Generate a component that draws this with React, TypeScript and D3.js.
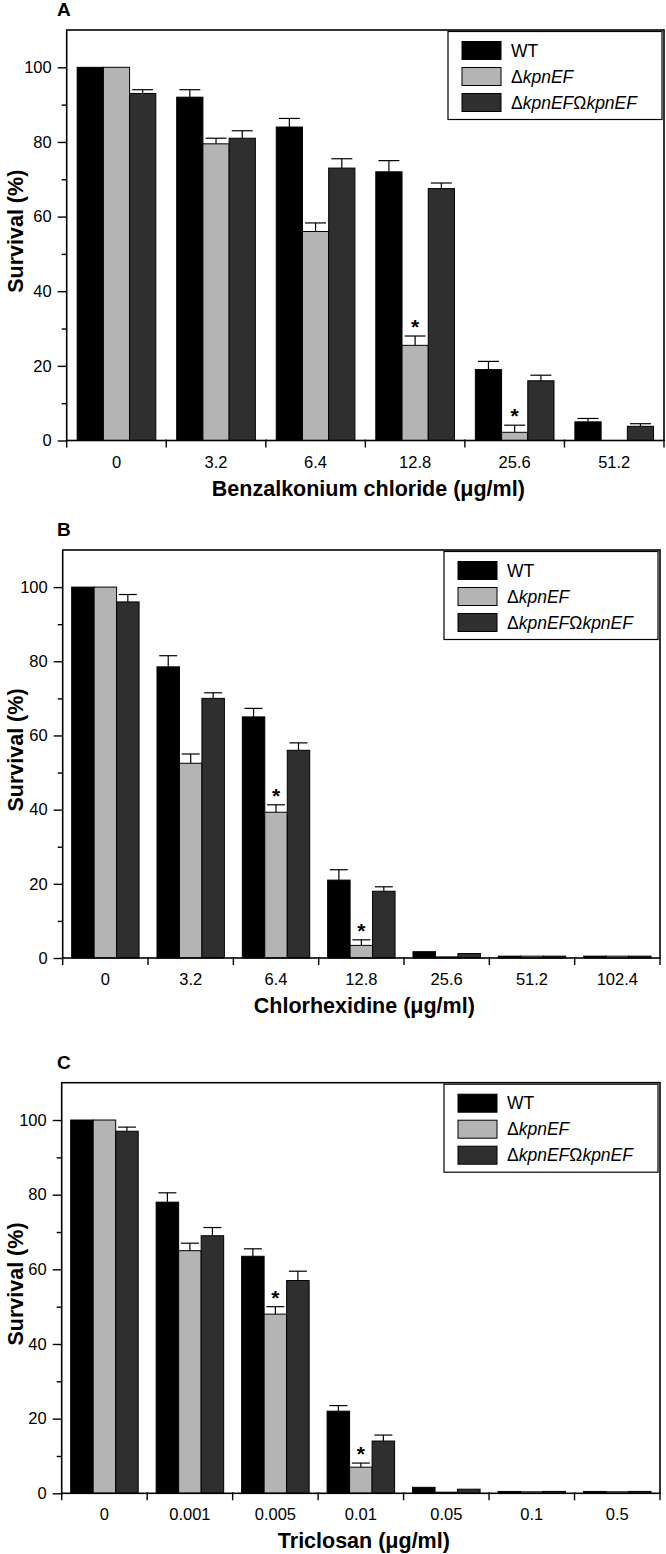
import React, { useEffect, useRef } from "react";
import * as d3 from "d3";

// series (legend order)
const seriesKeys = ["wt", "ko", "comp"];
const seriesFill = ["#000000", "#b4b4b4", "#2f2f2f"];

// panel A - benzalkonium chloride
const benzCats = ["0", "3.2", "6.4", "12.8", "25.6", "51.2"];
const benzWT = [100, 92, 84, 72, 19, 5];
const benzKO = [100, 79.5, 56, 25.5, 2.2, 0];
const benzComp = [93, 81, 73, 67.5, 16, 3.8];
const benzWTErr = [0, 2, 2.3, 3, 2.2, 0.9];
const benzKOErr = [0, 1.5, 2.3, 2.5, 1.9, 0];
const benzCompErr = [1, 2, 2.5, 1.5, 1.5, 0.7];
const benzStars = ["12.8", "25.6"];

// panel B - chlorhexidine
const chlorCats = ["0", "3.2", "6.4", "12.8", "25.6", "51.2", "102.4"];
const chlorWT = [100, 78.5, 65, 21, 1.7, 0.5, 0.5];
const chlorKO = [100, 52.5, 39.3, 3.4, 0.3, 0.5, 0.5];
const chlorComp = [96, 70, 56, 18, 1.2, 0.5, 0.5];
const chlorWTErr = [0, 3, 2.3, 2.8, 0, 0, 0];
const chlorKOErr = [0, 2.5, 2, 1.5, 0, 0, 0];
const chlorCompErr = [2, 1.5, 2, 1.2, 0, 0, 0];
const chlorStars = ["6.4", "12.8"];

// panel C - triclosan
const tricCats = ["0", "0.001", "0.005", "0.01", "0.05", "0.1", "0.5"];
const tricWT = [100, 78, 63.5, 22, 1.6, 0.5, 0.5];
const tricKO = [100, 65, 48, 7, 0.3, 0.4, 0.4];
const tricComp = [97, 69, 57, 14, 1.1, 0.5, 0.5];
const tricWTErr = [0, 2.5, 2, 1.5, 0, 0, 0];
const tricKOErr = [0, 2, 2, 1.1, 0, 0, 0];
const tricCompErr = [1.1, 2.2, 2.5, 1.6, 0, 0, 0];
const tricStars = ["0.005", "0.01"];

const yMajor = [0, 20, 40, 60, 80, 100];
const yMinor = [10, 30, 50, 70, 90];

const FONT = "'Liberation Sans', Arial, Helvetica, sans-serif";

function drawPanel(svg, p) {
  const g = svg.append("g");
  const y = d3.scaleLinear().domain([0, 110]).range([p.zero, p.top]);
  const x0 = d3.scaleBand().domain(p.cats).range([p.left, p.right]);
  const bw = x0.bandwidth();
  const x1 = d3.scaleBand().domain(seriesKeys).range([0.105 * bw, 0.895 * bw]);

  const rows = p.cats.map((c, i) => ({
    cat: c,
    vals: [p.wt[i], p.ko[i], p.comp[i]],
    errs: [p.wtErr[i], p.koErr[i], p.compErr[i]],
  }));

  // bars + error bars
  rows.forEach((r) => {
    r.vals.forEach((v, k) => {
      if (v <= 0) return;
      const bx = x0(r.cat) + x1(seriesKeys[k]);
      g.append("rect")
        .attr("x", bx)
        .attr("y", y(v))
        .attr("width", x1.bandwidth())
        .attr("height", p.zero - y(v))
        .attr("fill", seriesFill[k])
        .attr("stroke", "#000")
        .attr("stroke-width", 1);
      const e = r.errs[k];
      if (e > 0) {
        const cx = bx + x1.bandwidth() / 2;
        const cw = x1.bandwidth() * 0.8;
        g.append("line")
          .attr("x1", cx).attr("x2", cx)
          .attr("y1", y(v)).attr("y2", y(v + e))
          .attr("stroke", "#000").attr("stroke-width", 1.2);
        g.append("line")
          .attr("x1", cx - cw / 2).attr("x2", cx + cw / 2)
          .attr("y1", y(v + e)).attr("y2", y(v + e))
          .attr("stroke", "#000").attr("stroke-width", 1.2);
      }
      if (k === 1 && p.stars.includes(r.cat)) {
        g.append("text")
          .attr("x", bx + x1.bandwidth() / 2)
          .attr("y", y(v + e) - 2)
          .attr("text-anchor", "middle")
          .attr("font-family", FONT)
          .attr("font-weight", "bold")
          .attr("font-size", 21)
          .text("*");
      }
    });
  });

  // frame
  g.append("rect")
    .attr("x", p.left).attr("y", p.top)
    .attr("width", p.right - p.left).attr("height", p.zero - p.top)
    .attr("fill", "none").attr("stroke", "#000").attr("stroke-width", 1.6);

  // y axis ticks
  const yAxis = g.append("g")
    .attr("transform", `translate(${p.left},0)`)
    .call(d3.axisLeft(y).tickValues(yMajor).tickSize(9).tickPadding(6));
  yAxis.select(".domain").remove();
  yAxis.selectAll("line").attr("stroke-width", 1.4);
  yAxis.selectAll("text").attr("font-size", 16.5).attr("font-family", FONT).attr("fill", "#000");
  const yMin = g.append("g")
    .attr("transform", `translate(${p.left},0)`)
    .call(d3.axisLeft(y).tickValues(yMinor).tickSize(5).tickFormat(() => ""));
  yMin.select(".domain").remove();
  yMin.selectAll("line").attr("stroke-width", 1.4);

  // x ticks at group boundaries
  const bounds = p.cats.map((c) => x0(c)).concat([p.right]);
  g.selectAll(".xt")
    .data(bounds)
    .enter()
    .append("line")
    .attr("x1", (d) => d).attr("x2", (d) => d)
    .attr("y1", p.zero - 1).attr("y2", p.zero + 7)
    .attr("stroke", "#000").attr("stroke-width", 1.4);
  g.selectAll(".xl")
    .data(p.cats)
    .enter()
    .append("text")
    .attr("x", (d) => x0(d) + bw / 2)
    .attr("y", p.zero + 27)
    .attr("text-anchor", "middle")
    .attr("font-family", FONT)
    .attr("font-size", 16.5)
    .text((d) => d);

  // titles
  g.append("text")
    .attr("x", (p.left + p.right) / 2 + 3)
    .attr("y", p.zero + 55)
    .attr("text-anchor", "middle")
    .attr("font-family", FONT)
    .attr("font-weight", "bold")
    .attr("font-size", 21.5)
    .text(p.title);
  const yc = (p.top + p.zero) / 2 - 4;
  g.append("text")
    .attr("transform", `translate(23,${yc}) rotate(-90)`)
    .attr("text-anchor", "middle")
    .attr("font-family", FONT)
    .attr("font-weight", "bold")
    .attr("font-size", 21.5)
    .text("Survival (%)");
  g.append("text")
    .attr("x", 57)
    .attr("y", p.top - 14)
    .attr("font-family", FONT)
    .attr("font-weight", "bold")
    .attr("font-size", 19)
    .text(p.label);

  // legend
  const lx = p.right - 216;
  const ly = p.top + 1.5;
  const leg = g.append("g").attr("transform", `translate(${lx},${ly})`);
  leg.append("rect")
    .attr("x", 0).attr("y", 0).attr("width", 214).attr("height", 88)
    .attr("fill", "#fff").attr("stroke", "#000").attr("stroke-width", 1.2);
  seriesKeys.forEach((s, k) => {
    const cy = 19 + k * 26;
    leg.append("rect")
      .attr("x", 14).attr("y", cy - 9).attr("width", 39).attr("height", 18)
      .attr("fill", seriesFill[k]).attr("stroke", "#000").attr("stroke-width", 1);
    const t = leg.append("text")
      .attr("x", 63).attr("y", cy + 6)
      .attr("font-family", FONT).attr("font-size", 17.5);
    if (k === 0) {
      t.text("WT");
    } else {
      t.append("tspan").text("Δ");
      t.append("tspan").attr("font-style", "italic").text("kpnEF");
      if (k === 2) {
        t.append("tspan").text("Ω");
        t.append("tspan").attr("font-style", "italic").text("kpnEF");
      }
    }
  });
}

export default function App() {
  const ref = useRef(null);

  useEffect(() => {
    const svg = d3.select(ref.current);
    svg.selectAll("*").remove();
    drawPanel(svg, {
      label: "A", title: "Benzalkonium chloride (μg/ml)",
      left: 66.7, right: 664, top: 30, zero: 440.5,
      cats: benzCats, wt: benzWT, ko: benzKO, comp: benzComp,
      wtErr: benzWTErr, koErr: benzKOErr, compErr: benzCompErr, stars: benzStars,
    });
    drawPanel(svg, {
      label: "B", title: "Chlorhexidine (μg/ml)",
      left: 62.7, right: 660, top: 550, zero: 958,
      cats: chlorCats, wt: chlorWT, ko: chlorKO, comp: chlorComp,
      wtErr: chlorWTErr, koErr: chlorKOErr, compErr: chlorCompErr, stars: chlorStars,
    });
    drawPanel(svg, {
      label: "C", title: "Triclosan (μg/ml)",
      left: 61.7, right: 660, top: 1082.7, zero: 1493.3,
      cats: tricCats, wt: tricWT, ko: tricKO, comp: tricComp,
      wtErr: tricWTErr, koErr: tricKOErr, compErr: tricCompErr, stars: tricStars,
    });
  }, []);

  return (
    <svg
      ref={ref}
      width={666}
      height={1554}
      style={{ position: "absolute", left: 0, top: 0, background: "#fff" }}
    />
  );
}
